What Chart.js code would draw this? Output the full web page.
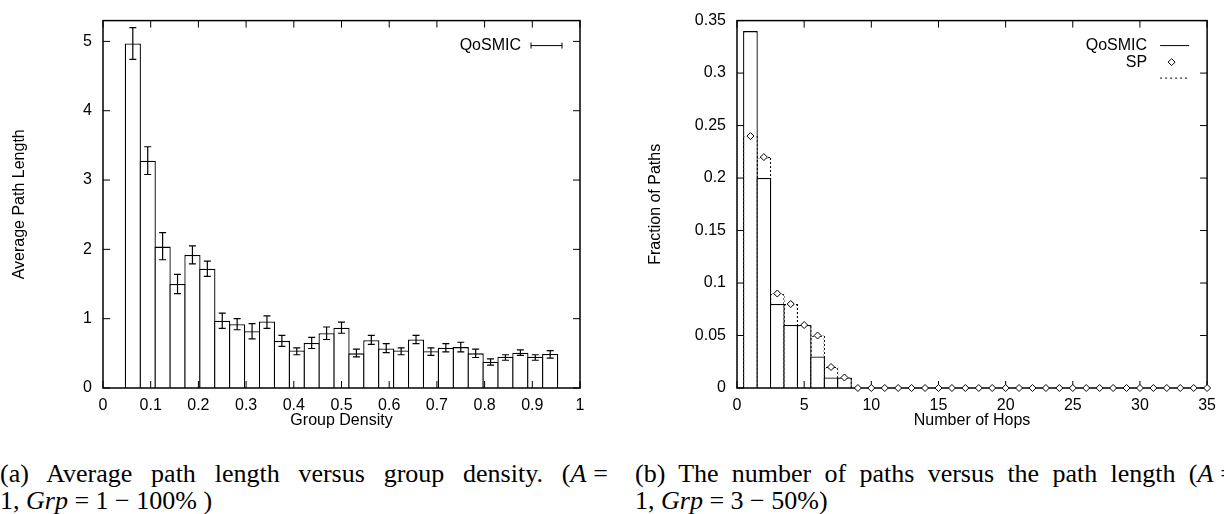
<!DOCTYPE html>
<html>
<head>
<meta charset="utf-8">
<script src="https://cdn.jsdelivr.net/npm/chart.js@4.4.0/dist/chart.umd.min.js"></script>
<style>
  html, body { margin: 0; padding: 0; background: #fff; overflow: hidden; }
  #page { position: relative; width: 1224px; height: 514px; overflow: hidden; }
  .panel { position: absolute; top: 0; width: 612px; height: 430px; }
  .cap { position: absolute; font-family: "Liberation Serif", serif; font-size: 26px; line-height: 27px; color: #000; white-space: nowrap; }
  .just { white-space: normal; text-align: justify; text-align-last: justify; }
  .eq { margin-left: 7px; }
</style>
</head>
<body>
<div id="page">
  <div class="panel" style="left:0"><canvas id="density" width="612" height="430"></canvas></div>
  <div class="panel" style="left:612px"><canvas id="hops" width="612" height="430"></canvas></div>
  <div class="cap just" style="left:0; top:460px; width:608px">(a) Average path length versus group density. (<i>A</i><span class="eq">=</span></div>
  <div class="cap" style="left:0; top:487px">1, <i>Grp</i> = 1 − 100% )</div>
  <div class="cap just" style="left:635px; top:460px; width:600px">(b) The number of paths versus the path length (<i>A</i><span class="eq">=</span></div>
  <div class="cap" style="left:635px; top:487px">1, <i>Grp</i> = 3 − 50%)</div>
</div>
<script>
// (a) average path length vs group density
const density = [0.0625, 0.09375, 0.125, 0.15625, 0.1875, 0.21875, 0.25, 0.28125, 0.3125, 0.34375,
  0.375, 0.40625, 0.4375, 0.46875, 0.5, 0.53125, 0.5625, 0.59375, 0.625, 0.65625,
  0.6875, 0.71875, 0.75, 0.78125, 0.8125, 0.84375, 0.875, 0.90625, 0.9375];
const avgPath = [4.97, 3.28, 2.04, 1.50, 1.92, 1.72, 0.97, 0.92, 0.82, 0.96,
  0.68, 0.54, 0.65, 0.79, 0.87, 0.50, 0.69, 0.57, 0.54, 0.70,
  0.53, 0.58, 0.59, 0.50, 0.38, 0.45, 0.51, 0.45, 0.49];
const errLow = [4.74, 3.08, 1.85, 1.36, 1.79, 1.61, 0.86, 0.84, 0.71, 0.86,
  0.60, 0.48, 0.57, 0.70, 0.79, 0.45, 0.63, 0.51, 0.48, 0.64,
  0.47, 0.52, 0.52, 0.44, 0.33, 0.40, 0.47, 0.40, 0.43];
const errHigh = [5.20, 3.48, 2.24, 1.64, 2.05, 1.83, 1.08, 1.00, 0.93, 1.04,
  0.76, 0.58, 0.73, 0.88, 0.95, 0.56, 0.76, 0.64, 0.58, 0.76,
  0.58, 0.64, 0.66, 0.56, 0.42, 0.48, 0.55, 0.48, 0.54];

// (b) fraction of paths vs number of hops
const hops = [1, 2, 3, 4, 5, 6, 7, 8, 9, 10, 11, 12, 13, 14, 15, 16, 17, 18, 19, 20,
  21, 22, 23, 24, 25, 26, 27, 28, 29, 30, 31, 32, 33, 34, 35];
const qosmicFrac = [0.34, 0.20, 0.08, 0.06, 0.06, 0.03, 0.01, 0.01];
const spFrac = [0.24, 0.22, 0.09, 0.08, 0.06, 0.05, 0.02, 0.01, 0, 0,
  0, 0, 0, 0, 0, 0, 0, 0, 0, 0, 0, 0, 0, 0, 0, 0, 0, 0, 0, 0, 0, 0, 0, 0, 0];

const FONT = '"Liberation Sans", Arial, Helvetica, sans-serif';
Chart.defaults.font.family = FONT;
Chart.defaults.font.size = 16;
Chart.defaults.color = '#000';

// gnuplot style frame with inward ticks on every side
function drawFrame(chart) {
  const {ctx, chartArea: a, scales: {x, y}} = chart;
  const len = 7;
  ctx.save();
  ctx.strokeStyle = '#000';
  ctx.lineWidth = 1;
  ctx.beginPath();
  x.ticks.forEach(t => {
    const px = x.getPixelForValue(t.value);
    ctx.moveTo(px, a.bottom); ctx.lineTo(px, a.bottom - len);
    ctx.moveTo(px, a.top); ctx.lineTo(px, a.top + len);
  });
  y.ticks.forEach(t => {
    const py = y.getPixelForValue(t.value);
    ctx.moveTo(a.left, py); ctx.lineTo(a.left + len, py);
    ctx.moveTo(a.right, py); ctx.lineTo(a.right - len, py);
  });
  ctx.stroke();
  ctx.lineWidth = 1.5;
  ctx.strokeRect(a.left, a.top, a.right - a.left, a.bottom - a.top);
  ctx.restore();
}

const framePlugin = {
  id: 'frame',
  beforeDatasetsDraw(chart) { chart.$framed = false; },
  beforeDatasetDraw(chart, args) {
    // frame goes under the point markers but over the boxes
    if (args.meta.type === 'line' && !chart.$framed) { drawFrame(chart); chart.$framed = true; }
  },
  afterDatasetsDraw(chart) {
    if (!chart.$framed) { drawFrame(chart); chart.$framed = true; }
  }
};

const errorBars = {
  id: 'errorBars',
  afterDatasetsDraw(chart) {
    const {ctx, scales: {x, y}} = chart;
    ctx.save();
    ctx.strokeStyle = '#000';
    ctx.lineWidth = 1.2;
    ctx.beginPath();
    density.forEach((d, i) => {
      const px = x.getPixelForValue(d);
      const lo = y.getPixelForValue(errLow[i]);
      const hi = y.getPixelForValue(errHigh[i]);
      ctx.moveTo(px, lo); ctx.lineTo(px, hi);
      ctx.moveTo(px - 3.5, lo); ctx.lineTo(px + 3.5, lo);
      ctx.moveTo(px - 3.5, hi); ctx.lineTo(px + 3.5, hi);
    });
    ctx.stroke();
    ctx.restore();
  }
};

const keyA = {
  id: 'keyA',
  afterDraw(chart) {
    const {ctx, chartArea: a} = chart;
    const y = a.top + 25;
    ctx.save();
    ctx.font = '16px ' + FONT;
    ctx.fillStyle = '#000';
    ctx.textAlign = 'right';
    ctx.textBaseline = 'middle';
    ctx.fillText(chart.data.datasets[0].label, a.right - 59, y);
    ctx.strokeStyle = '#000';
    ctx.lineWidth = 1;
    ctx.beginPath();
    ctx.moveTo(a.right - 49, y); ctx.lineTo(a.right - 18, y);
    ctx.moveTo(a.right - 49, y - 3); ctx.lineTo(a.right - 49, y + 3);
    ctx.moveTo(a.right - 18, y - 3); ctx.lineTo(a.right - 18, y + 3);
    ctx.stroke();
    ctx.restore();
  }
};

const keyB = {
  id: 'keyB',
  afterDraw(chart) {
    const {ctx, chartArea: a} = chart;
    const ds = chart.data.datasets;
    const x0 = a.right - 47, x1 = a.right - 18;
    const rows = [a.top + 25, a.top + 41.5, a.top + 57.5];
    ctx.save();
    ctx.font = '16px ' + FONT;
    ctx.fillStyle = '#000';
    ctx.textAlign = 'right';
    ctx.textBaseline = 'middle';
    ctx.fillText(ds[0].label, a.right - 60, rows[0]);
    ctx.fillText(ds[2].label, a.right - 60, rows[1]);
    ctx.strokeStyle = '#000';
    ctx.lineWidth = 1;
    ctx.beginPath();
    ctx.moveTo(x0, rows[0]); ctx.lineTo(x1, rows[0]);
    ctx.stroke();
    const cx = (x0 + x1) / 2 - 3, cy = rows[1], r = 3.5;
    ctx.beginPath();
    ctx.moveTo(cx, cy - r); ctx.lineTo(cx + r, cy); ctx.lineTo(cx, cy + r); ctx.lineTo(cx - r, cy); ctx.closePath();
    ctx.fillStyle = '#fff';
    ctx.fill();
    ctx.stroke();
    ctx.setLineDash([2, 3]);
    ctx.beginPath();
    ctx.moveTo(x0, rows[2]); ctx.lineTo(x1, rows[2]);
    ctx.stroke();
    ctx.restore();
  }
};

new Chart(document.getElementById('density'), {
  type: 'bar',
  data: {
    datasets: [{
      label: 'QoSMIC',
      data: density.map((d, i) => ({x: d, y: avgPath[i]})),
      backgroundColor: '#fff',
      borderColor: '#000',
      borderWidth: 1.3,
      borderSkipped: 'start',
      categoryPercentage: 1,
      barPercentage: 1.087
    }]
  },
  options: {
    responsive: false,
    animation: false,
    events: [],
    layout: {padding: {top: 15, right: 32, bottom: 0, left: 0}},
    plugins: {legend: {display: false}, tooltip: {enabled: false}},
    scales: {
      x: {
        type: 'linear', min: 0, max: 1, offset: false,
        grid: {display: false, drawTicks: false},
        border: {display: false},
        ticks: {stepSize: 0.1, padding: 8, autoSkip: false, maxRotation: 0, callback: v => +v.toFixed(1)},
        title: {display: true, text: 'Group Density', padding: {top: 0, bottom: 0}},
        afterFit: s => { s.height = 42; }
      },
      y: {
        min: 0, max: 5.3,
        grid: {display: false, drawTicks: false},
        border: {display: false},
        ticks: {stepSize: 1, padding: 11},
        title: {display: true, text: 'Average Path Length', padding: {top: 9.5, bottom: 0}},
        afterBuildTicks: s => { s.ticks = s.ticks.filter(t => Number.isInteger(t.value)); },
        afterFit: s => { s.width = 103; }
      }
    }
  },
  plugins: [framePlugin, errorBars, keyA]
});

const hopsCanvas = document.getElementById('hops');
function dashPattern(target) {
  const c = document.createElement('canvas');
  c.width = c.height = 4;
  const g = c.getContext('2d');
  g.fillStyle = '#000';
  g.fillRect(0, 0, 2, 2);
  g.fillRect(2, 2, 2, 2);
  return target.getContext('2d').createPattern(c, 'repeat');
}

new Chart(hopsCanvas, {
  type: 'bar',
  data: {
    datasets: [{
      label: 'QoSMIC',
      data: qosmicFrac.map((v, i) => ({x: hops[i], y: v})),
      backgroundColor: '#fff',
      borderColor: '#000',
      borderWidth: 1.3,
      borderSkipped: 'start',
      grouped: false,
      categoryPercentage: 1,
      barPercentage: 1.096,
      order: 1
    }, {
      label: '',
      data: spFrac.map((v, i) => ({x: hops[i], y: v})),
      backgroundColor: 'rgba(0,0,0,0)',
      borderColor: dashPattern(hopsCanvas),
      borderWidth: 1.2,
      borderSkipped: 'start',
      grouped: false,
      categoryPercentage: 1,
      barPercentage: 1.096,
      order: 2
    }, {
      type: 'line',
      label: 'SP',
      data: spFrac.map((v, i) => ({x: hops[i], y: v})),
      showLine: false,
      pointStyle: 'rectRot',
      pointRadius: 3.5,
      pointBorderWidth: 1,
      pointBackgroundColor: '#fff',
      pointBorderColor: '#000',
      clip: false,
      order: 0
    }]
  },
  options: {
    responsive: false,
    animation: false,
    events: [],
    layout: {padding: {top: 15, right: 11, bottom: 0, left: 0}},
    plugins: {legend: {display: false}, tooltip: {enabled: false}},
    scales: {
      x: {
        type: 'linear', min: 0, max: 35, offset: false,
        grid: {display: false, drawTicks: false},
        border: {display: false},
        ticks: {stepSize: 5, padding: 8, autoSkip: false, maxRotation: 0},
        title: {display: true, text: 'Number of Hops', padding: {top: 0, bottom: 0}},
        afterFit: s => { s.height = 42; }
      },
      y: {
        min: 0, max: 0.35,
        grid: {display: false, drawTicks: false},
        border: {display: false},
        ticks: {stepSize: 0.05, padding: 11, callback: v => +v.toFixed(2)},
        title: {display: true, text: 'Fraction of Paths', padding: {top: 33.5, bottom: 0}},
        afterFit: s => { s.width = 125; }
      }
    }
  },
  plugins: [framePlugin, keyB]
});
</script>
</body>
</html>
